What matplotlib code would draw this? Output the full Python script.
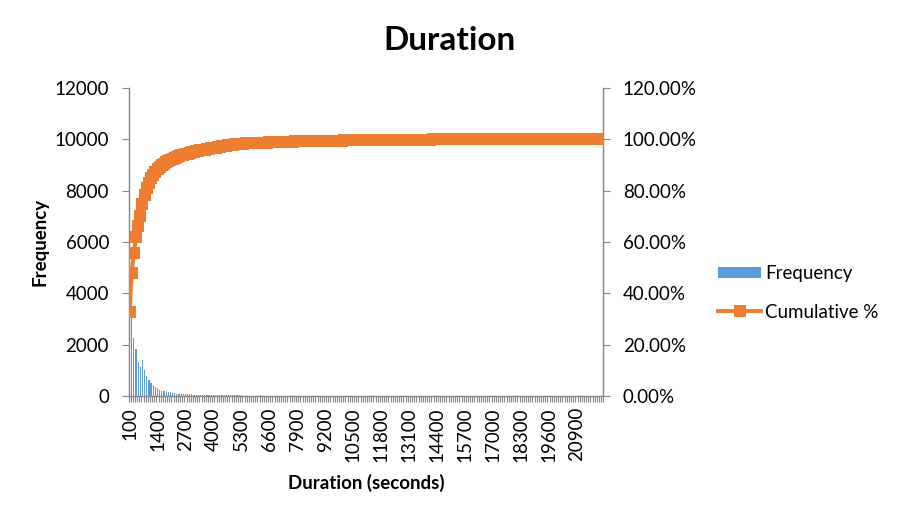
import matplotlib.pyplot as plt
import numpy as np
from matplotlib.lines import Line2D
from matplotlib.patches import Patch
from matplotlib.ticker import FuncFormatter

plt.rcParams["font.family"] = ["Lato", "DejaVu Sans"]

# histogram bins: upper edge of each 100 s bin
bin_edges = list(range(100, 22200, 100))

frequency = [
    9600, 4550, 2250, 1830, 1340, 1120, 1400, 1010, 780, 620,
    490, 430, 340, 300, 230, 210, 200, 170, 150, 140,
    110, 100, 90, 90, 80, 80, 75, 70, 65, 60,
    58, 57, 55, 54, 52, 50, 50, 48, 47, 46,
    45, 44, 42, 41, 40, 40, 38, 37, 36, 35,
    34, 32, 30, 8, 6, 7, 5, 6, 4, 5,
    18, 20, 16, 18, 15, 14, 12, 5, 4, 6,
    3, 4, 14, 12, 15, 11, 10, 12, 3, 2,
    4, 3, 2, 3, 2, 2, 10, 9, 12, 8,
    10, 9, 8, 2, 1, 2, 1, 1, 2, 8,
    7, 9, 2, 6, 7, 1, 1, 6, 5, 6,
    1, 0, 4, 1, 0, 2, 5, 4, 5, 1,
    0, 4, 6, 5, 0, 1, 0, 1, 0, 5,
    0, 1, 0, 0, 5, 4, 5, 0, 1, 0,
    4, 5, 4, 0, 1, 0, 0, 0, 1, 0,
    0, 0, 0, 0, 1, 0, 0, 0, 0, 0,
    0, 0, 3, 0, 3, 0, 0, 0, 0, 0,
    0, 0, 0, 0, 0, 0, 0, 0, 0, 0,
    0, 0, 0, 0, 0, 3, 0, 0, 0, 0,
    0, 0, 0, 0, 0, 0, 0, 0, 0, 0,
    0, 0, 0, 0, 0, 0, 0, 0, 0, 0,
    0, 0, 0, 0, 0, 0, 0, 0, 0, 2,
    0,
]

BLUE = "#5B9BD5"
ORANGE = "#ED7D31"
AXIS = "#898989"
FS = 13.5

freq = np.array(frequency, dtype=float)
cum = np.cumsum(freq) / freq.sum()
x = np.arange(len(bin_edges))

fig = plt.figure(figsize=(8.99, 5.18), dpi=100)
ax = fig.add_axes([128.5 / 899, 1 - 396 / 518, (603.3 - 128.5) / 899, 308 / 518])
ax2 = ax.twinx()

ax.bar(x, freq, width=0.55, color=BLUE, zorder=2)
ax2.plot(x, cum, color=ORANGE, linewidth=2.8, marker="s", markersize=8.5,
         markeredgewidth=0, zorder=3)

ax.set_xlim(-0.5, len(x) - 0.5)
ax.set_ylim(0, 12000)
ax.set_yticks(np.arange(0, 12001, 2000))
ax2.set_ylim(0, 1.2)
ax2.set_yticks(np.arange(0, 1.21, 0.2))
ax2.yaxis.set_major_formatter(FuncFormatter(lambda v, p: f"{v * 100:.2f}%"))

# tick marks between categories, labels every 13th category
ax.set_xticks(np.arange(len(x) + 1) - 0.5)
ax.set_xticklabels([])
ax.set_xticks(x[::13], minor=True)
ax.set_xticklabels([str(b) for b in bin_edges[::13]], minor=True, rotation=90)
ax.tick_params(axis="x", which="major", length=4.5, width=0.8, color=AXIS)
ax.tick_params(axis="x", which="minor", length=0, pad=8, labelsize=FS)
ax.tick_params(axis="y", length=5, width=0.8, color=AXIS, pad=9, labelsize=FS)
ax2.tick_params(axis="y", length=5, width=0.8, color=AXIS, pad=9, labelsize=FS)

for a in (ax, ax2):
    a.spines["top"].set_visible(False)
    for s in ("left", "right", "bottom"):
        a.spines[s].set_color(AXIS)
        a.spines[s].set_linewidth(0.9)
ax.patch.set_visible(False)
ax.set_zorder(ax2.get_zorder() - 1)
ax2.patch.set_visible(False)

ax.set_ylabel("Frequency", fontsize=FS, fontweight="bold", labelpad=4)
ax.set_xlabel("Duration (seconds)", fontsize=FS, fontweight="bold", labelpad=9)
fig.text(450 / 899, 1 - 40 / 518, "Duration", ha="center", va="center",
         fontsize=24, fontweight="bold")

handles = [
    Patch(facecolor=BLUE, edgecolor="none"),
    Line2D([], [], color=ORANGE, linewidth=2.8, marker="s", markersize=8.5,
           markeredgewidth=0),
]
fig.legend(handles, ["Frequency", "Cumulative %"], loc="upper left",
           bbox_to_anchor=(718 / 899, 1 - 265 / 518), frameon=False,
           borderpad=0, borderaxespad=0,
           fontsize=FS, handlelength=2.3, handleheight=0.55,
           handletextpad=0.2, labelspacing=1.15)

fig.savefig("out.png", dpi=100, facecolor="white")
